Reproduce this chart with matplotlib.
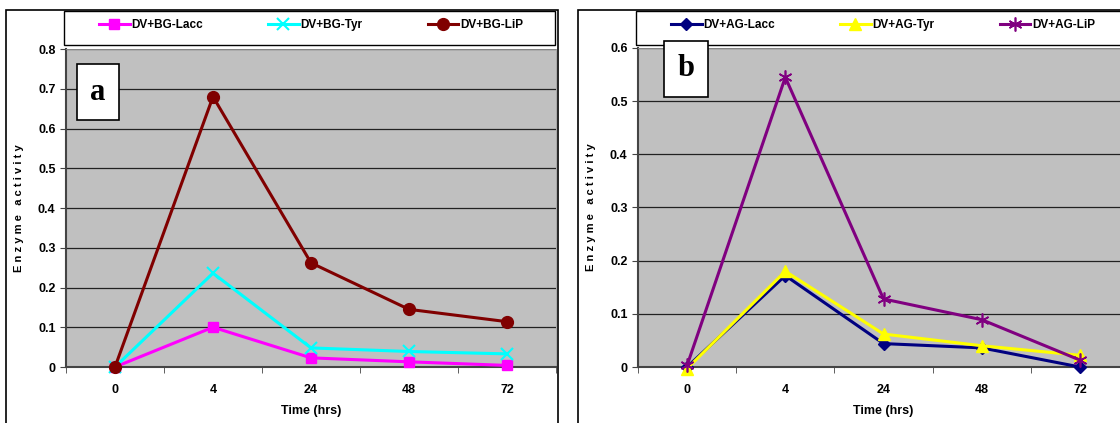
import matplotlib.pyplot as plt
from matplotlib.patches import Rectangle

plt.rcParams['font.family'] = ['Liberation Sans Narrow', 'Liberation Sans', 'DejaVu Sans']
plt.rcParams['font.weight'] = 'bold'

times = ['0', '4', '24', '48', '72']

# panel a
bg_lacc = [0.0, 0.100, 0.023, 0.013, 0.004]
bg_tyr = [0.0, 0.236, 0.048, 0.039, 0.033]
bg_lip = [0.0, 0.680, 0.262, 0.145, 0.114]

# panel b
ag_lacc = [0.0, 0.172, 0.044, 0.036, 0.0]
ag_tyr = [-0.003, 0.180, 0.062, 0.040, 0.022]
ag_lip = [0.003, 0.545, 0.128, 0.089, 0.013]

W, H = 1120, 423
fig = plt.figure(figsize=(11.2, 4.23), dpi=100)


def box(x0, y0, x1, y1, lw=1.2):
    # rectangle given in pixels from top-left corner
    fig.patches.append(Rectangle((x0 / W, 1 - y1 / H), (x1 - x0) / W, (y1 - y0) / H,
                                 transform=fig.transFigure, fill=False,
                                 edgecolor='black', linewidth=lw))


# outer frames of the two panels
box(6, 10, 558, 440)
box(578, 10, 1130, 440)
# legend boxes
box(64, 11, 555, 45, 1.0)
box(636, 11, 1130, 45, 1.0)


def make_axes(left, right, top, bottom):
    return fig.add_axes([left / W, (H - bottom) / H, (right - left) / W, (bottom - top) / H])


def style(ax, ymax, letter, lx, ly, legx):
    x = range(len(times))
    n = int(round(ymax * 10))
    ax.set_facecolor('#c0c0c0')
    ax.set_xlim(-0.5, 4.5)
    ax.set_ylim(0, ymax)
    ax.set_yticks([i / 10 for i in range(n + 1)])
    ax.set_yticklabels(['0'] + ['%.1f' % (i / 10) for i in range(1, n + 1)])
    ax.set_xticks(list(x))
    ax.set_xticklabels(times)
    ax.set_xticks([i - 0.5 for i in range(6)], minor=True)
    ax.tick_params(axis='x', which='major', length=0, pad=12, labelsize=9)
    ax.tick_params(axis='x', which='minor', length=4, direction='out', color='#444444')
    ax.tick_params(axis='y', length=4, direction='out', labelsize=9, color='#444444')
    ax.yaxis.grid(True, color='#222222', linewidth=0.9)
    ax.set_axisbelow(True)
    for s in ['top', 'right']:
        ax.spines[s].set_color('#999999')
        ax.spines[s].set_linewidth(0.6)
    for s in ['left', 'bottom']:
        ax.spines[s].set_color('#444444')
        ax.spines[s].set_linewidth(1.5)
    ax.set_xlabel('Time (hrs)', fontsize=9, fontweight='bold', labelpad=7)
    ax.set_ylabel('E n z y m e   a c t i v i t y', fontsize=8, fontweight='bold', labelpad=10)
    fig.text(lx / W, 1 - ly / H, letter, fontsize=22, fontweight='bold',
             family='Liberation Serif', ha='center', va='center',
             bbox=dict(boxstyle='square,pad=0.45', facecolor='white', edgecolor='black', linewidth=1.2))
    ax.legend(loc='center', bbox_to_anchor=(legx / W, 1 - 25 / H), bbox_transform=fig.transFigure,
              ncol=3, frameon=False, fontsize=8.5, handlelength=2.6, handletextpad=0.15,
              columnspacing=5.5, borderpad=0)


x = range(len(times))

ax1 = make_axes(66, 556, 49, 367)
ax1.plot(x, bg_lacc, color='#ff00ff', marker='s', markersize=7, linewidth=2.2, label='DV+BG-Lacc', clip_on=False, zorder=3)
ax1.plot(x, bg_tyr, color='#00ffff', marker='x', markersize=8, markeredgewidth=1.5, linewidth=2.2, label='DV+BG-Tyr', clip_on=False, zorder=3)
ax1.plot(x, bg_lip, color='#800000', marker='o', markersize=8.5, linewidth=2.2, label='DV+BG-LiP', clip_on=False, zorder=3)
style(ax1, 0.8, 'a', 98, 92, 311)

ax2 = make_axes(638, 1129, 48, 367)
ax2.plot(x, ag_lacc, color='#000080', marker='D', markersize=6, linewidth=2.2, label='DV+AG-Lacc', clip_on=False, zorder=3)
ax2.plot(x, ag_tyr, color='#ffff00', marker='^', markersize=9, linewidth=2.2, label='DV+AG-Tyr', clip_on=False, zorder=3)
ax2.plot(x, ag_lip, color='#800080', marker=(6, 2, 0), markersize=10, markeredgewidth=1.2, linewidth=2.2, label='DV+AG-LiP', clip_on=False, zorder=3)
style(ax2, 0.6, 'b', 686, 69, 883)

fig.savefig('out.png', dpi=100)
